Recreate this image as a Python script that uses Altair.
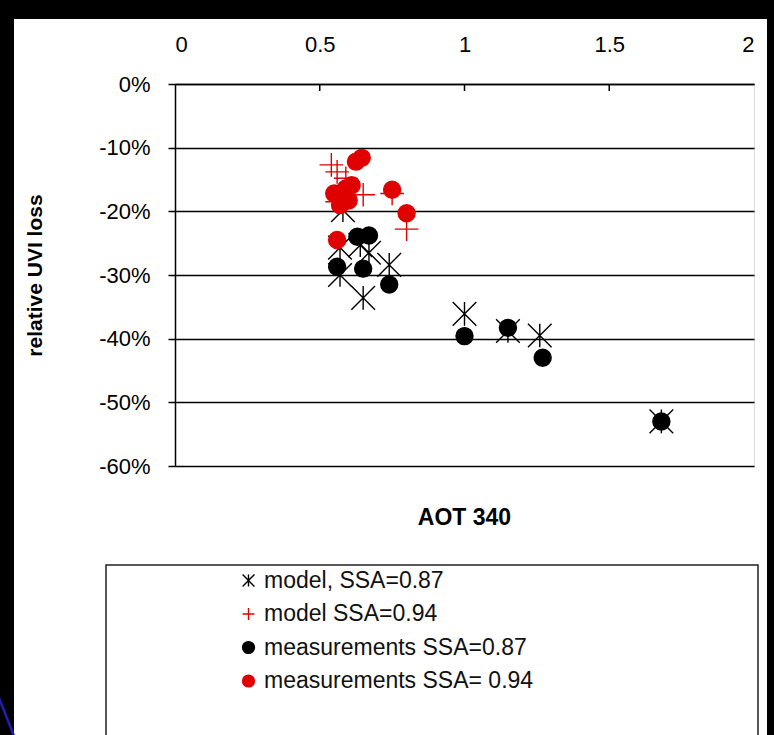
import altair as alt
import pandas as pd

# ---- data ----
series_names = ["model, SSA=0.87", "model SSA=0.94", "measurements SSA=0.87", "measurements SSA= 0.94"]

model087_x = [1.68, 1.26, 1.15, 1.00, 0.74, 0.65, 0.57, 0.67, 0.57, 0.58, 0.64]
model087_y = [-53.0, -39.5, -38.8, -36.1, -28.4, -33.6, -30.0, -26.5, -25.7, -19.8, -25.3]

model094_x = [0.54, 0.56, 0.59, 0.65, 0.75, 0.80, 0.56]
model094_y = [-12.7, -13.8, -14.8, -17.4, -17.2, -22.8, -18.5]

meas087_x = [1.68, 1.27, 1.15, 1.00, 0.74, 0.56, 0.65, 0.63, 0.67]
meas087_y = [-53.0, -43.0, -38.3, -39.6, -31.5, -28.7, -29.0, -24.0, -23.8]

meas094_x = [0.625, 0.645, 0.75, 0.80, 0.56, 0.55, 0.59, 0.60, 0.57, 0.61, 0.58]
meas094_y = [-12.2, -11.6, -16.6, -20.3, -24.5, -17.2, -16.4, -18.3, -19.0, -15.9, -18.0]

x_ticks = [0, 0.5, 1, 1.5, 2]
y_ticks = [0, -10, -20, -30, -40, -50, -60]
inner_ticks = [0.5, 1, 1.5]
x_title = ["AOT 340"]

rows = []
for name, xs, ys in [
    (series_names[0], model087_x, model087_y),
    (series_names[1], model094_x, model094_y),
    (series_names[2], meas087_x, meas087_y),
    (series_names[3], meas094_x, meas094_y),
]:
    for xv, yv in zip(xs, ys):
        rows.append({"series": name, "aot": xv, "loss": yv})
df = pd.DataFrame(rows)
df["idx"] = range(len(df))
df_model = df[df["series"].str.startswith("model")]
df_meas = df[df["series"].str.startswith("measurements")]

FONT = "Liberation Sans"
W, H = 579, 382

asterisk = "M-1,-1L1,1M-1,1L1,-1M0,-1L0,1"
plus = "M-1,0L1,0M0,-1L0,1"

xscale = alt.Scale(domain=[0, 2], nice=False)
yscale = alt.Scale(domain=[-60, 0], nice=False)

legend = alt.Legend(title=None, orient="none", legendX=62, legendY=485,
                    labelFont=FONT, labelFontSize=23, labelColor="#111", labelLimit=600,
                    symbolSize=140, symbolStrokeWidth=1.4,
                    rowPadding=9.5, labelOffset=4, padding=0)

xenc = alt.X("aot:Q", scale=xscale,
             axis=alt.Axis(orient="top", values=x_ticks, labelExpr="datum.value + ''",
                           ticks=False, grid=False, domainColor="black", domainWidth=1.5,
                           labelFont=FONT, labelFontSize=22, labelColor="black",
                           labelPadding=28, title=None))
yenc = alt.Y("loss:Q", scale=yscale,
             axis=alt.Axis(values=y_ticks, labelExpr="datum.value + '%'",
                           grid=True, gridColor="black", gridWidth=1.5,
                           domainColor="black", domainWidth=1.5,
                           tickColor="black", tickSize=7, tickWidth=1.5,
                           labelFont=FONT, labelFontSize=22, labelColor="black",
                           labelPadding=18,
                           title="relative UVI loss", titleFont=FONT, titleFontSize=21,
                           titleFontWeight="bold", titleColor="black",
                           titleX=-140, titleY=H / 2, titleAngle=-90,
                           titleAlign="center", titleBaseline="middle"))
shape_enc = alt.Shape("series:N", scale=alt.Scale(domain=series_names,
                      range=[asterisk, plus, "circle", "circle"]), legend=legend)
stroke_enc = alt.Stroke("series:N", scale=alt.Scale(domain=series_names,
                        range=["black", "#e00000", "black", "#e00000"]), legend=legend)
fill_enc = alt.Fill("series:N", scale=alt.Scale(domain=series_names,
                    range=["transparent", "transparent", "black", "#e00000"]), legend=legend)

model_pts = alt.Chart(df_model).mark_point(opacity=1, strokeWidth=1.4, size=560).encode(
    x=xenc, y=yenc, shape=shape_enc, stroke=stroke_enc, fill=fill_enc,
    order=alt.Order("idx:Q"))
meas_pts = alt.Chart(df_meas).mark_point(opacity=1, strokeWidth=1.4, size=289).encode(
    x=xenc, y=yenc, shape=shape_enc, stroke=stroke_enc, fill=fill_enc,
    order=alt.Order("idx:Q"))

ticks = alt.Chart(pd.DataFrame({"t": inner_ticks})).mark_rule(color="black", strokeWidth=1.5).encode(
    x=alt.X("t:Q", scale=xscale), y=alt.value(0), y2=alt.value(7)
)

xtitle = alt.Chart(pd.DataFrame({"label": x_title})).mark_text(
    font=FONT, fontSize=23, fontWeight="bold", color="black", align="center", baseline="middle"
).encode(text="label:N", x=alt.value(W / 2), y=alt.value(H + 52))

one = pd.DataFrame({"a": [0]})
left_strip = alt.Chart(one).mark_rect(color="black").encode(
    x=alt.value(-175), x2=alt.value(-161), y=alt.value(-84), y2=alt.value(651))
top_strip = alt.Chart(one).mark_rect(color="black").encode(
    x=alt.value(-175), x2=alt.value(599), y=alt.value(-84), y2=alt.value(-65))
right_strip = alt.Chart(one).mark_rect(color="black").encode(
    x=alt.value(592), x2=alt.value(599), y=alt.value(-84), y2=alt.value(651))
blue_line = alt.Chart(one).mark_rule(color="#1f1fb0", strokeWidth=2.5).encode(
    x=alt.value(-176), y=alt.value(614), x2=alt.value(-161), y2=alt.value(652))
legend_box = alt.Chart(one).mark_rect(filled=False, stroke="#222", strokeWidth=1.5).encode(
    x=alt.value(-69), x2=alt.value(583), y=alt.value(481), y2=alt.value(660))

chart = alt.layer(left_strip, top_strip, right_strip, blue_line, legend_box, ticks, xtitle,
                  model_pts, meas_pts).properties(
    width=W, height=H,
    autosize=alt.AutoSizeParams(type="none"),
    padding={"left": 175, "top": 84, "right": 20, "bottom": 269},
).configure_view(stroke="#888", strokeWidth=1.5).configure(background="white")

chart.save("out.html", embed_options={"renderer": "svg", "actions": False})
